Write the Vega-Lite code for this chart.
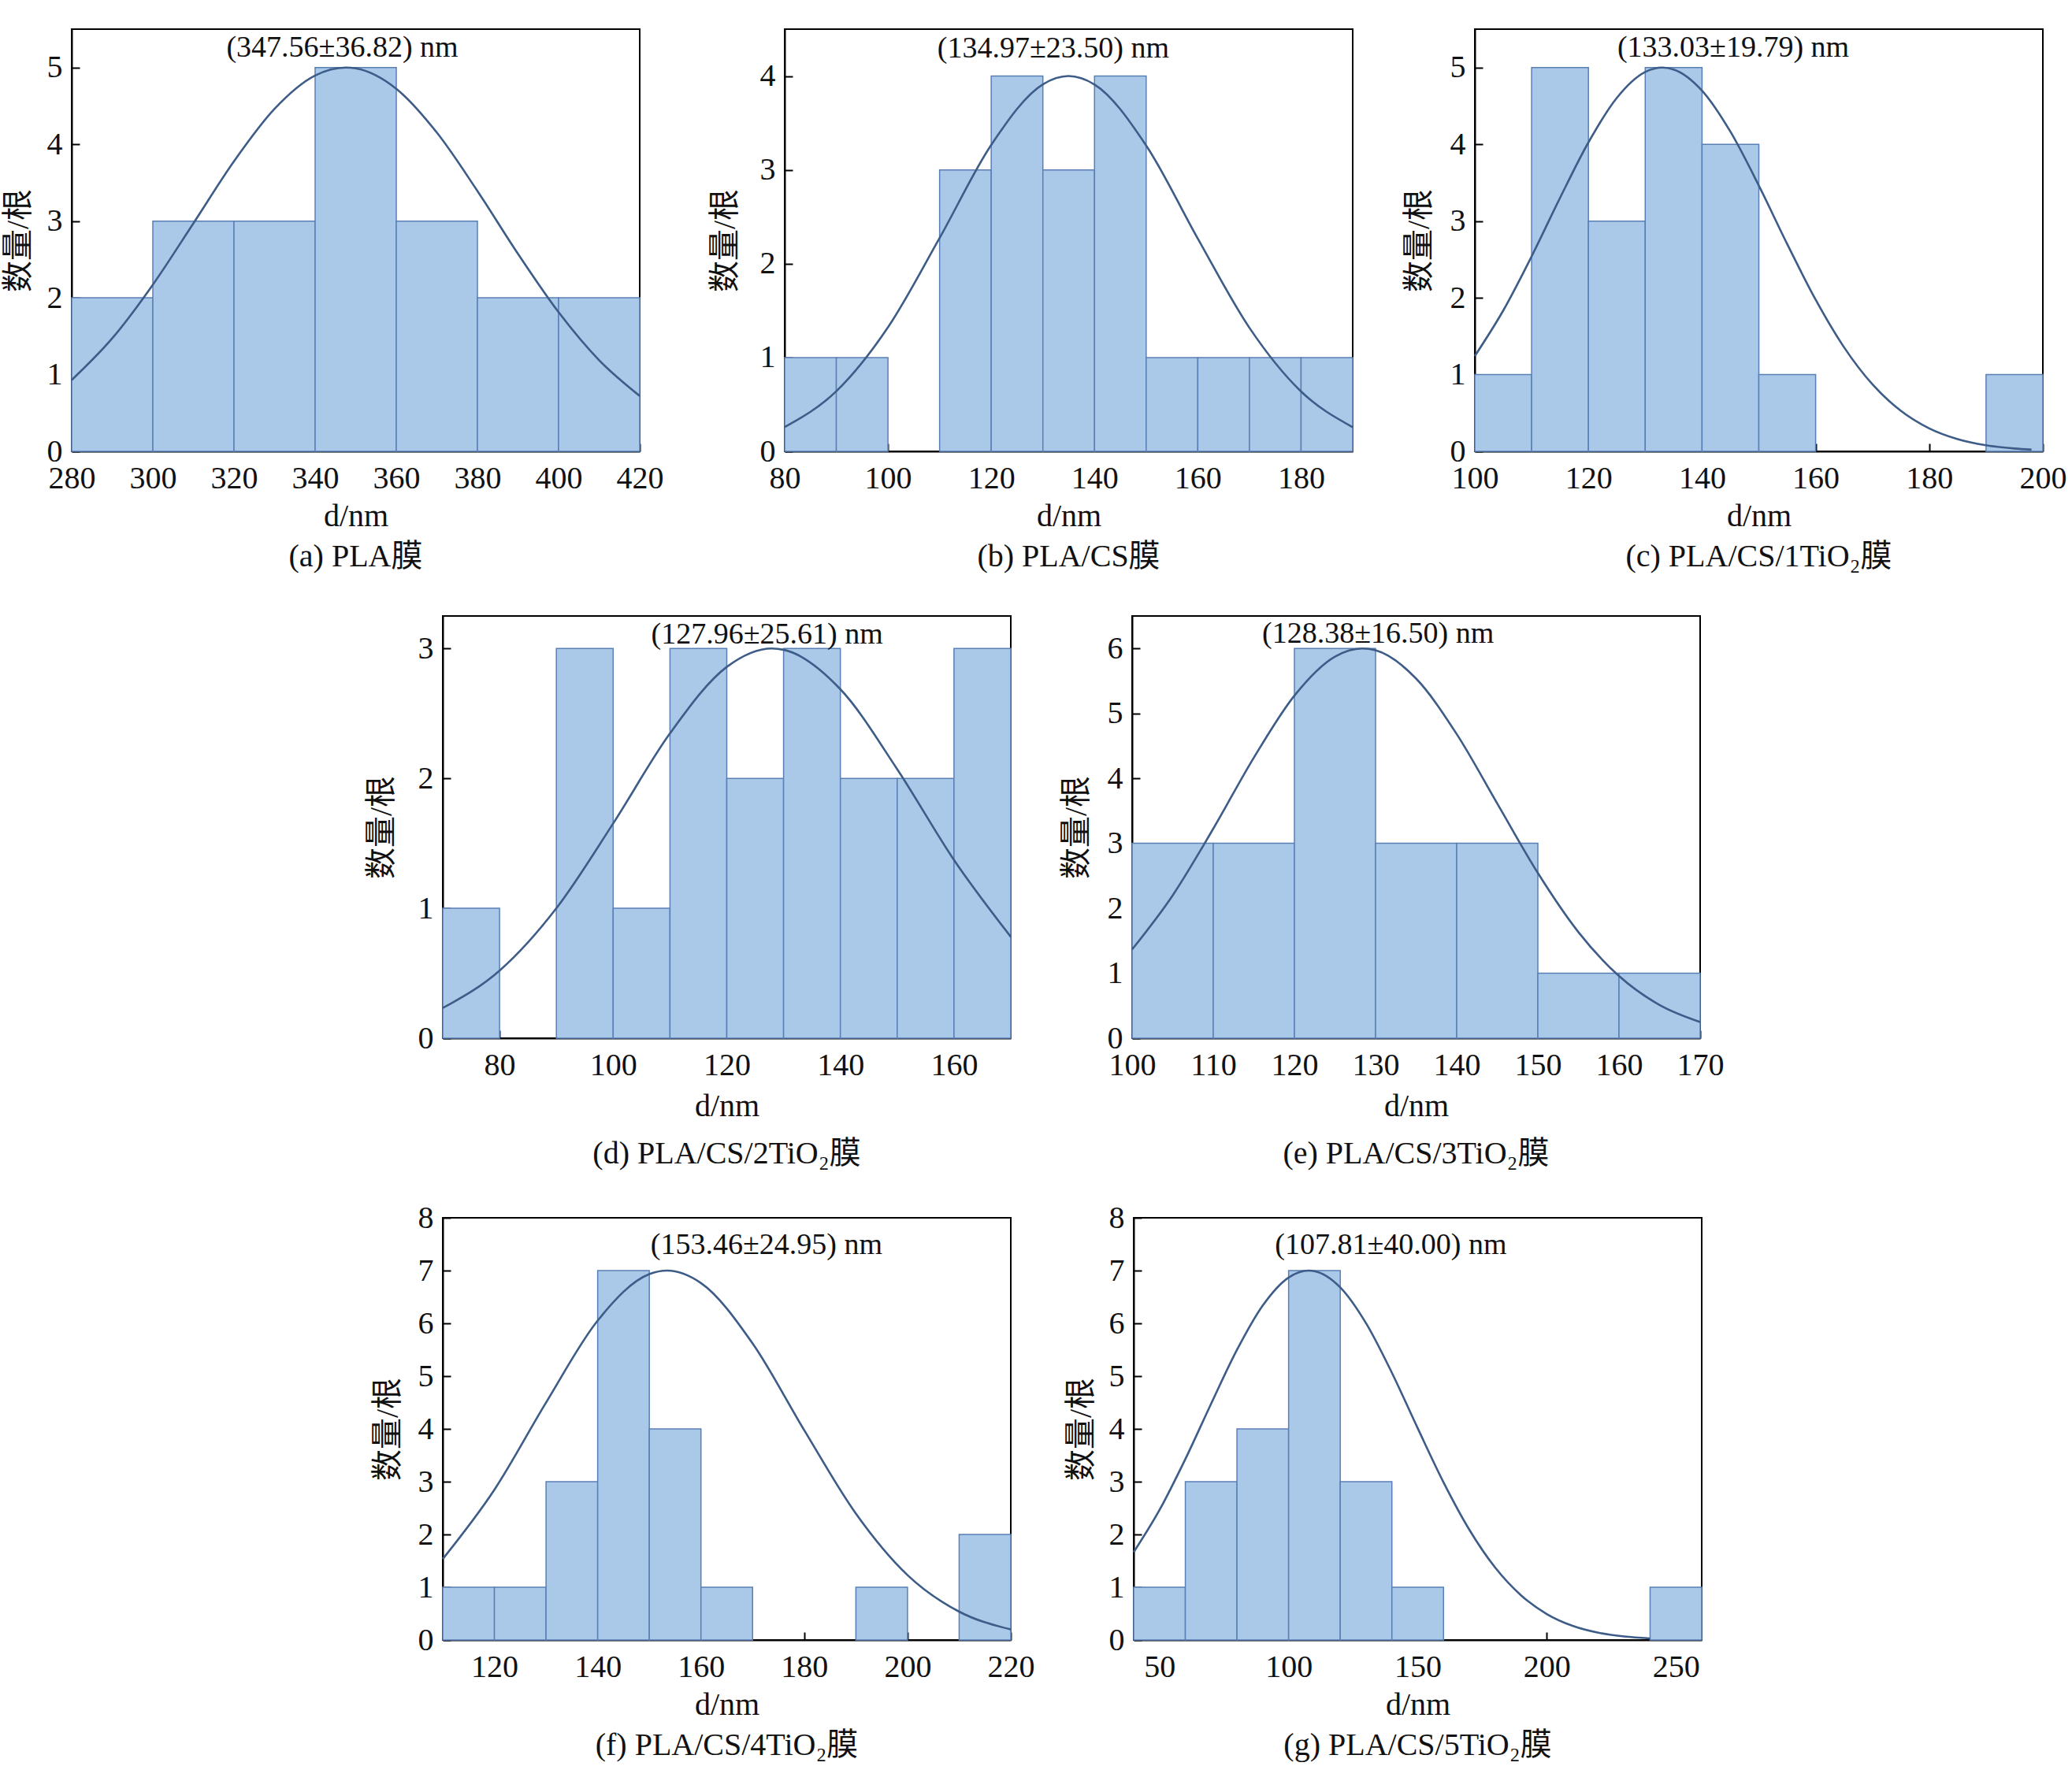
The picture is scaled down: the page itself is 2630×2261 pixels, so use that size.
{
  "$schema": "https://vega.github.io/schema/vega-lite/v6.json",
  "background": "white",
  "padding": {"left": 2, "top": 36, "right": 0, "bottom": 0},
  "datasets": {
    "bars": [
      {"p": "a", "lo": 280, "hi": 300, "n": 2}, {"p": "a", "lo": 300, "hi": 320, "n": 3}, {"p": "a", "lo": 320, "hi": 340, "n": 3},
      {"p": "a", "lo": 340, "hi": 360, "n": 5}, {"p": "a", "lo": 360, "hi": 380, "n": 3}, {"p": "a", "lo": 380, "hi": 400, "n": 2},
      {"p": "a", "lo": 400, "hi": 420, "n": 2},
      {"p": "b", "lo": 80, "hi": 90, "n": 1}, {"p": "b", "lo": 90, "hi": 100, "n": 1}, {"p": "b", "lo": 110, "hi": 120, "n": 3},
      {"p": "b", "lo": 120, "hi": 130, "n": 4}, {"p": "b", "lo": 130, "hi": 140, "n": 3}, {"p": "b", "lo": 140, "hi": 150, "n": 4},
      {"p": "b", "lo": 150, "hi": 160, "n": 1}, {"p": "b", "lo": 160, "hi": 170, "n": 1}, {"p": "b", "lo": 170, "hi": 180, "n": 1},
      {"p": "b", "lo": 180, "hi": 190, "n": 1},
      {"p": "c", "lo": 100, "hi": 110, "n": 1}, {"p": "c", "lo": 110, "hi": 120, "n": 5}, {"p": "c", "lo": 120, "hi": 130, "n": 3},
      {"p": "c", "lo": 130, "hi": 140, "n": 5}, {"p": "c", "lo": 140, "hi": 150, "n": 4}, {"p": "c", "lo": 150, "hi": 160, "n": 1},
      {"p": "c", "lo": 190, "hi": 200, "n": 1},
      {"p": "d", "lo": 70, "hi": 80, "n": 1}, {"p": "d", "lo": 90, "hi": 100, "n": 3}, {"p": "d", "lo": 100, "hi": 110, "n": 1},
      {"p": "d", "lo": 110, "hi": 120, "n": 3}, {"p": "d", "lo": 120, "hi": 130, "n": 2}, {"p": "d", "lo": 130, "hi": 140, "n": 3},
      {"p": "d", "lo": 140, "hi": 150, "n": 2}, {"p": "d", "lo": 150, "hi": 160, "n": 2}, {"p": "d", "lo": 160, "hi": 170, "n": 3},
      {"p": "e", "lo": 100, "hi": 110, "n": 3}, {"p": "e", "lo": 110, "hi": 120, "n": 3}, {"p": "e", "lo": 120, "hi": 130, "n": 6},
      {"p": "e", "lo": 130, "hi": 140, "n": 3}, {"p": "e", "lo": 140, "hi": 150, "n": 3}, {"p": "e", "lo": 150, "hi": 160, "n": 1},
      {"p": "e", "lo": 160, "hi": 170, "n": 1},
      {"p": "f", "lo": 110, "hi": 120, "n": 1}, {"p": "f", "lo": 120, "hi": 130, "n": 1}, {"p": "f", "lo": 130, "hi": 140, "n": 3},
      {"p": "f", "lo": 140, "hi": 150, "n": 7}, {"p": "f", "lo": 150, "hi": 160, "n": 4}, {"p": "f", "lo": 160, "hi": 170, "n": 1},
      {"p": "f", "lo": 190, "hi": 200, "n": 1}, {"p": "f", "lo": 210, "hi": 220, "n": 2},
      {"p": "g", "lo": 40, "hi": 60, "n": 1}, {"p": "g", "lo": 60, "hi": 80, "n": 3}, {"p": "g", "lo": 80, "hi": 100, "n": 4},
      {"p": "g", "lo": 100, "hi": 120, "n": 7}, {"p": "g", "lo": 120, "hi": 140, "n": 3}, {"p": "g", "lo": 140, "hi": 160, "n": 1},
      {"p": "g", "lo": 240, "hi": 260, "n": 1}
    ],
    "curves": [
      {"p": "a", "d": 280, "n": 0.929}, {"p": "a", "d": 290, "n": 1.473}, {"p": "a", "d": 300, "n": 2.171}, {"p": "a", "d": 310, "n": 2.971},
      {"p": "a", "d": 320, "n": 3.779}, {"p": "a", "d": 330, "n": 4.462}, {"p": "a", "d": 340, "n": 4.896}, {"p": "a", "d": 347.56, "n": 5},
      {"p": "a", "d": 350, "n": 4.989}, {"p": "a", "d": 360, "n": 4.723}, {"p": "a", "d": 370, "n": 4.153}, {"p": "a", "d": 380, "n": 3.392},
      {"p": "a", "d": 390, "n": 2.573}, {"p": "a", "d": 400, "n": 1.813}, {"p": "a", "d": 410, "n": 1.187}, {"p": "a", "d": 420, "n": 0.722},
      {"p": "b", "d": 80, "n": 0.259}, {"p": "b", "d": 90, "n": 0.641}, {"p": "b", "d": 100, "n": 1.322}, {"p": "b", "d": 110, "n": 2.274},
      {"p": "b", "d": 120, "n": 3.266}, {"p": "b", "d": 130, "n": 3.912}, {"p": "b", "d": 134.97, "n": 4}, {"p": "b", "d": 140, "n": 3.910},
      {"p": "b", "d": 150, "n": 3.260}, {"p": "b", "d": 160, "n": 2.268}, {"p": "b", "d": 170, "n": 1.317}, {"p": "b", "d": 180, "n": 0.638},
      {"p": "b", "d": 190, "n": 0.258},
      {"p": "c", "d": 100, "n": 1.242}, {"p": "c", "d": 105, "n": 1.834}, {"p": "c", "d": 110, "n": 2.540}, {"p": "c", "d": 115, "n": 3.302},
      {"p": "c", "d": 120, "n": 4.025}, {"p": "c", "d": 125, "n": 4.605}, {"p": "c", "d": 130, "n": 4.942}, {"p": "c", "d": 133.03, "n": 5},
      {"p": "c", "d": 135, "n": 4.975}, {"p": "c", "d": 140, "n": 4.699}, {"p": "c", "d": 145, "n": 4.164}, {"p": "c", "d": 150, "n": 3.462},
      {"p": "c", "d": 155, "n": 2.700}, {"p": "c", "d": 160, "n": 1.976}, {"p": "c", "d": 165, "n": 1.356}, {"p": "c", "d": 170, "n": 0.873},
      {"p": "c", "d": 175, "n": 0.528}, {"p": "c", "d": 180, "n": 0.299}, {"p": "c", "d": 185, "n": 0.159}, {"p": "c", "d": 190, "n": 0.079},
      {"p": "c", "d": 195, "n": 0.037}, {"p": "c", "d": 198, "n": 0.022},
      {"p": "d", "d": 70, "n": 0.232}, {"p": "d", "d": 80, "n": 0.520}, {"p": "d", "d": 90, "n": 1.000}, {"p": "d", "d": 100, "n": 1.653},
      {"p": "d", "d": 110, "n": 2.346}, {"p": "d", "d": 120, "n": 2.858}, {"p": "d", "d": 127.96, "n": 3}, {"p": "d", "d": 130, "n": 2.990},
      {"p": "d", "d": 140, "n": 2.686}, {"p": "d", "d": 150, "n": 2.071}, {"p": "d", "d": 160, "n": 1.372}, {"p": "d", "d": 170, "n": 0.780},
      {"p": "e", "d": 100, "n": 1.367}, {"p": "e", "d": 105, "n": 2.199}, {"p": "e", "d": 110, "n": 3.226}, {"p": "e", "d": 115, "n": 4.319},
      {"p": "e", "d": 120, "n": 5.274}, {"p": "e", "d": 125, "n": 5.875}, {"p": "e", "d": 128.38, "n": 6}, {"p": "e", "d": 130, "n": 5.971},
      {"p": "e", "d": 135, "n": 5.536}, {"p": "e", "d": 140, "n": 4.682}, {"p": "e", "d": 145, "n": 3.612}, {"p": "e", "d": 150, "n": 2.543},
      {"p": "e", "d": 155, "n": 1.633}, {"p": "e", "d": 160, "n": 0.957}, {"p": "e", "d": 165, "n": 0.511}, {"p": "e", "d": 170, "n": 0.249},
      {"p": "f", "d": 110, "n": 1.535}, {"p": "f", "d": 120, "n": 2.848}, {"p": "f", "d": 130, "n": 4.499}, {"p": "f", "d": 140, "n": 6.052},
      {"p": "f", "d": 150, "n": 6.933}, {"p": "f", "d": 153.46, "n": 7}, {"p": "f", "d": 160, "n": 6.764}, {"p": "f", "d": 170, "n": 5.620},
      {"p": "f", "d": 180, "n": 3.975}, {"p": "f", "d": 190, "n": 2.395}, {"p": "f", "d": 200, "n": 1.229}, {"p": "f", "d": 210, "n": 0.537},
      {"p": "f", "d": 220, "n": 0.200},
      {"p": "g", "d": 40, "n": 1.664}, {"p": "g", "d": 50, "n": 2.463}, {"p": "g", "d": 60, "n": 3.427}, {"p": "g", "d": 70, "n": 4.478},
      {"p": "g", "d": 80, "n": 5.497}, {"p": "g", "d": 90, "n": 6.339}, {"p": "g", "d": 100, "n": 6.868}, {"p": "g", "d": 107.81, "n": 7},
      {"p": "g", "d": 110, "n": 6.990}, {"p": "g", "d": 120, "n": 6.682}, {"p": "g", "d": 130, "n": 6.002}, {"p": "g", "d": 140, "n": 5.064},
      {"p": "g", "d": 150, "n": 4.013}, {"p": "g", "d": 160, "n": 2.988}, {"p": "g", "d": 170, "n": 2.090}, {"p": "g", "d": 180, "n": 1.373},
      {"p": "g", "d": 190, "n": 0.848}, {"p": "g", "d": 200, "n": 0.492}, {"p": "g", "d": 210, "n": 0.268}, {"p": "g", "d": 220, "n": 0.137},
      {"p": "g", "d": 230, "n": 0.066}, {"p": "g", "d": 240, "n": 0.030}
    ],
    "notes": [
      {"p": "a", "d": 346.7, "n": 5.25, "text": "(347.56±36.82) nm"},
      {"p": "b", "d": 132.0, "n": 4.29, "text": "(134.97±23.50) nm"},
      {"p": "c", "d": 145.5, "n": 5.25, "text": "(133.03±19.79) nm"},
      {"p": "d", "d": 127.1, "n": 3.107, "text": "(127.96±25.61) nm"},
      {"p": "e", "d": 130.3, "n": 6.22, "text": "(128.38±16.50) nm"},
      {"p": "f", "d": 172.7, "n": 7.48, "text": "(153.46±24.95) nm"},
      {"p": "g", "d": 139.6, "n": 7.48, "text": "(107.81±40.00) nm"}
    ]
  },
  "vconcat": [
    {
      "spacing": 56,
      "hconcat": [
        {
          "width": 721, "height": 536,
          "title": {"text": "(a) PLA膜", "offset": 12},
          "layer": [
            {"data": {"name": "bars"}, "transform": [{"filter": "datum.p === 'a'"}], "mark": "rect",
             "encoding": {
               "x": {"field": "lo", "type": "quantitative", "title": "d/nm", "scale": {"domain": [280, 420], "nice": false, "zero": false}, "axis": {"values": [280, 300, 320, 340, 360, 380, 400, 420]}},
               "x2": {"field": "hi"},
               "y": {"field": "n", "type": "quantitative", "title": "数量/根", "scale": {"domain": [0, 5.5], "nice": false}, "axis": {"values": [0, 1, 2, 3, 4, 5], "titlePadding": 16}},
               "y2": {"datum": 0}}},
            {"data": {"name": "curves"}, "transform": [{"filter": "datum.p === 'a'"}], "mark": "line",
             "encoding": {"x": {"field": "d", "type": "quantitative", "title": "d/nm"}, "y": {"field": "n", "type": "quantitative", "title": "数量/根"}}},
            {"data": {"name": "notes"}, "transform": [{"filter": "datum.p === 'a'"}], "mark": "text",
             "encoding": {"x": {"field": "d", "type": "quantitative", "title": "d/nm"}, "y": {"field": "n", "type": "quantitative", "title": "数量/根"}, "text": {"field": "text"}}}
          ]
        },
        {
          "width": 721, "height": 536,
          "title": {"text": "(b) PLA/CS膜", "offset": 12},
          "layer": [
            {"data": {"name": "bars"}, "transform": [{"filter": "datum.p === 'b'"}], "mark": "rect",
             "encoding": {
               "x": {"field": "lo", "type": "quantitative", "title": "d/nm", "scale": {"domain": [80, 190], "nice": false, "zero": false}, "axis": {"values": [80, 100, 120, 140, 160, 180]}},
               "x2": {"field": "hi"},
               "y": {"field": "n", "type": "quantitative", "title": "数量/根", "scale": {"domain": [0, 4.5], "nice": false}, "axis": {"values": [0, 1, 2, 3, 4], "titlePadding": 24}},
               "y2": {"datum": 0}}},
            {"data": {"name": "curves"}, "transform": [{"filter": "datum.p === 'b'"}], "mark": "line",
             "encoding": {"x": {"field": "d", "type": "quantitative", "title": "d/nm"}, "y": {"field": "n", "type": "quantitative", "title": "数量/根"}}},
            {"data": {"name": "notes"}, "transform": [{"filter": "datum.p === 'b'"}], "mark": "text",
             "encoding": {"x": {"field": "d", "type": "quantitative", "title": "d/nm"}, "y": {"field": "n", "type": "quantitative", "title": "数量/根"}, "text": {"field": "text"}}}
          ]
        },
        {
          "width": 721, "height": 536,
          "title": {"text": "(c) PLA/CS/1TiO₂膜", "offset": 12},
          "layer": [
            {"data": {"name": "bars"}, "transform": [{"filter": "datum.p === 'c'"}], "mark": "rect",
             "encoding": {
               "x": {"field": "lo", "type": "quantitative", "title": "d/nm", "scale": {"domain": [100, 200], "nice": false, "zero": false}, "axis": {"values": [100, 120, 140, 160, 180, 200]}},
               "x2": {"field": "hi"},
               "y": {"field": "n", "type": "quantitative", "title": "数量/根", "scale": {"domain": [0, 5.5], "nice": false}, "axis": {"values": [0, 1, 2, 3, 4, 5], "titlePadding": 19}},
               "y2": {"datum": 0}}},
            {"data": {"name": "curves"}, "transform": [{"filter": "datum.p === 'c'"}], "mark": "line",
             "encoding": {"x": {"field": "d", "type": "quantitative", "title": "d/nm"}, "y": {"field": "n", "type": "quantitative", "title": "数量/根"}}},
            {"data": {"name": "notes"}, "transform": [{"filter": "datum.p === 'c'"}], "mark": "text",
             "encoding": {"x": {"field": "d", "type": "quantitative", "title": "d/nm"}, "y": {"field": "n", "type": "quantitative", "title": "数量/根"}, "text": {"field": "text"}}}
          ]
        }
      ]
    },
    {
      "spacing": 39,
      "vconcat": [
        {
          "spacing": 55,
          "hconcat": [
            {
              "width": 317, "height": 10,
              "data": {"values": [{"k": 0}]},
              "mark": {"type": "point", "opacity": 0},
              "view": {"stroke": null, "fill": null}
            },
            {
              "width": 721, "height": 536,
              "title": {"text": "(d) PLA/CS/2TiO₂膜", "offset": 21},
              "layer": [
                {"data": {"name": "bars"}, "transform": [{"filter": "datum.p === 'd'"}], "mark": "rect",
                 "encoding": {
                   "x": {"field": "lo", "type": "quantitative", "title": "d/nm", "scale": {"domain": [70, 170], "nice": false, "zero": false}, "axis": {"values": [80, 100, 120, 140, 160], "titlePadding": 12}},
                   "x2": {"field": "hi"},
                   "y": {"field": "n", "type": "quantitative", "title": "数量/根", "scale": {"domain": [0, 3.25], "nice": false}, "axis": {"values": [0, 1, 2, 3], "titlePadding": 26}},
                   "y2": {"datum": 0}}},
                {"data": {"name": "curves"}, "transform": [{"filter": "datum.p === 'd'"}], "mark": "line",
                 "encoding": {"x": {"field": "d", "type": "quantitative", "title": "d/nm"}, "y": {"field": "n", "type": "quantitative", "title": "数量/根"}}},
                {"data": {"name": "notes"}, "transform": [{"filter": "datum.p === 'd'"}], "mark": "text",
                 "encoding": {"x": {"field": "d", "type": "quantitative", "title": "d/nm"}, "y": {"field": "n", "type": "quantitative", "title": "数量/根"}, "text": {"field": "text"}}}
              ]
            },
            {
              "width": 721, "height": 536,
              "title": {"text": "(e) PLA/CS/3TiO₂膜", "offset": 21},
              "layer": [
                {"data": {"name": "bars"}, "transform": [{"filter": "datum.p === 'e'"}], "mark": "rect",
                 "encoding": {
                   "x": {"field": "lo", "type": "quantitative", "title": "d/nm", "scale": {"domain": [100, 170], "nice": false, "zero": false}, "axis": {"values": [100, 110, 120, 130, 140, 150, 160, 170], "titlePadding": 12}},
                   "x2": {"field": "hi"},
                   "y": {"field": "n", "type": "quantitative", "title": "数量/根", "scale": {"domain": [0, 6.5], "nice": false}, "axis": {"values": [0, 1, 2, 3, 4, 5, 6], "titlePadding": 19}},
                   "y2": {"datum": 0}}},
                {"data": {"name": "curves"}, "transform": [{"filter": "datum.p === 'e'"}], "mark": "line",
                 "encoding": {"x": {"field": "d", "type": "quantitative", "title": "d/nm"}, "y": {"field": "n", "type": "quantitative", "title": "数量/根"}}},
                {"data": {"name": "notes"}, "transform": [{"filter": "datum.p === 'e'"}], "mark": "text",
                 "encoding": {"x": {"field": "d", "type": "quantitative", "title": "d/nm"}, "y": {"field": "n", "type": "quantitative", "title": "数量/根"}, "text": {"field": "text"}}}
              ]
            }
          ]
        },
        {
          "spacing": 37,
          "hconcat": [
            {
              "width": 343, "height": 10,
              "data": {"values": [{"k": 0}]},
              "mark": {"type": "point", "opacity": 0},
              "view": {"stroke": null, "fill": null}
            },
            {
              "width": 721, "height": 536,
              "title": {"text": "(f) PLA/CS/4TiO₂膜", "offset": 12},
              "layer": [
                {"data": {"name": "bars"}, "transform": [{"filter": "datum.p === 'f'"}], "mark": "rect",
                 "encoding": {
                   "x": {"field": "lo", "type": "quantitative", "title": "d/nm", "scale": {"domain": [110, 220], "nice": false, "zero": false}, "axis": {"values": [120, 140, 160, 180, 200, 220]}},
                   "x2": {"field": "hi"},
                   "y": {"field": "n", "type": "quantitative", "title": "数量/根", "scale": {"domain": [0, 8], "nice": false}, "axis": {"values": [0, 1, 2, 3, 4, 5, 6, 7, 8], "titlePadding": 18}},
                   "y2": {"datum": 0}}},
                {"data": {"name": "curves"}, "transform": [{"filter": "datum.p === 'f'"}], "mark": "line",
                 "encoding": {"x": {"field": "d", "type": "quantitative", "title": "d/nm"}, "y": {"field": "n", "type": "quantitative", "title": "数量/根"}}},
                {"data": {"name": "notes"}, "transform": [{"filter": "datum.p === 'f'"}], "mark": "text",
                 "encoding": {"x": {"field": "d", "type": "quantitative", "title": "d/nm"}, "y": {"field": "n", "type": "quantitative", "title": "数量/根"}, "text": {"field": "text"}}}
              ]
            },
            {
              "width": 721, "height": 536,
              "title": {"text": "(g) PLA/CS/5TiO₂膜", "offset": 12},
              "layer": [
                {"data": {"name": "bars"}, "transform": [{"filter": "datum.p === 'g'"}], "mark": "rect",
                 "encoding": {
                   "x": {"field": "lo", "type": "quantitative", "title": "d/nm", "scale": {"domain": [40, 260], "nice": false, "zero": false}, "axis": {"values": [50, 100, 150, 200, 250]}},
                   "x2": {"field": "hi"},
                   "y": {"field": "n", "type": "quantitative", "title": "数量/根", "scale": {"domain": [0, 8], "nice": false}, "axis": {"values": [0, 1, 2, 3, 4, 5, 6, 7, 8], "titlePadding": 15}},
                   "y2": {"datum": 0}}},
                {"data": {"name": "curves"}, "transform": [{"filter": "datum.p === 'g'"}], "mark": "line",
                 "encoding": {"x": {"field": "d", "type": "quantitative", "title": "d/nm"}, "y": {"field": "n", "type": "quantitative", "title": "数量/根"}}},
                {"data": {"name": "notes"}, "transform": [{"filter": "datum.p === 'g'"}], "mark": "text",
                 "encoding": {"x": {"field": "d", "type": "quantitative", "title": "d/nm"}, "y": {"field": "n", "type": "quantitative", "title": "数量/根"}, "text": {"field": "text"}}}
              ]
            }
          ]
        }
      ]
    }
  ],
  "spacing": 53,
  "config": {
    "font": "'Liberation Serif', 'Noto Sans CJK SC'",
    "numberFormat": "d",
    "concat": {"spacing": 60},
    "view": {"stroke": "#000000", "strokeWidth": 2},
    "rect": {"fill": "#aac8e8", "stroke": "#5a7fb5", "strokeWidth": 1.5, "opacity": 1},
    "line": {"color": "#3d5c88", "strokeWidth": 2.6, "interpolate": "monotone"},
    "text": {"fontSize": 38, "color": "#111111", "font": "'Liberation Serif', 'Noto Sans CJK SC'"},
    "axis": {
      "grid": false,
      "domainColor": "#000000", "domainWidth": 2,
      "tickColor": "#000000", "tickWidth": 2, "tickSize": -10,
      "labelFont": "'Liberation Serif', 'Noto Sans CJK SC'", "labelFontSize": 40, "labelColor": "#111111",
      "titleFont": "'Liberation Serif', 'Noto Sans CJK SC'", "titleFontSize": 40, "titleFontWeight": "normal", "titleColor": "#111111"
    },
    "axisX": {"labelPadding": 24, "titlePadding": 8, "labelOverlap": false, "labelFlush": false},
    "axisY": {"labelPadding": 22, "titlePadding": 14, "labelOverlap": false},
    "title": {"orient": "bottom", "anchor": "middle", "fontSize": 40, "fontWeight": "normal", "color": "#111111", "font": "'Liberation Serif', 'Noto Sans CJK SC'"}
  }
}
